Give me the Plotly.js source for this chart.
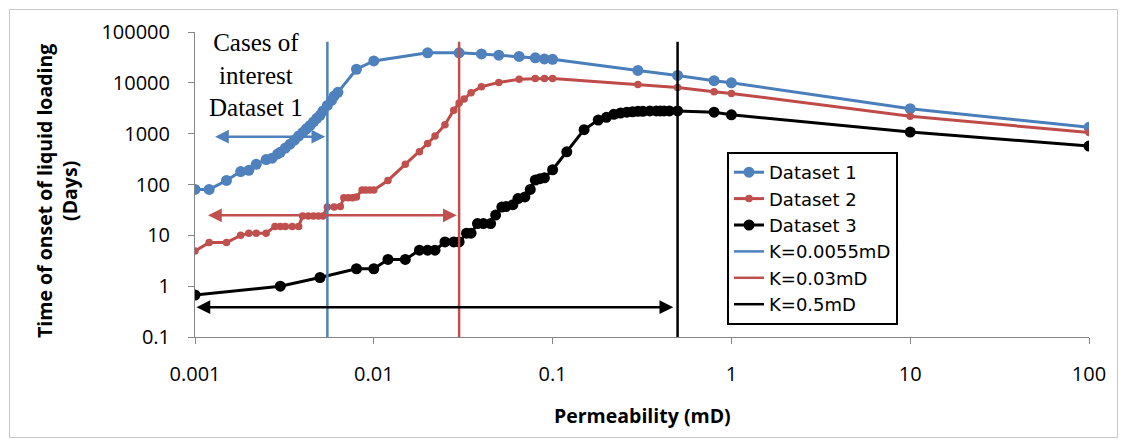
<!DOCTYPE html>
<html>
<head>
<meta charset="utf-8">
<script src="https://cdn.plot.ly/plotly-3.0.1.min.js"></script>
<style>
  html, body { margin: 0; padding: 0; background: #fff; }
  #chart { width: 1123px; height: 445px; }
</style>
</head>
<body>
<div id="chart"></div>
<script>
// ---- Data ----
const ds1X = [0.001, 0.0012, 0.0015, 0.0018, 0.002, 0.0022, 0.0025, 0.0027, 0.0029, 0.003, 0.0032, 0.0034, 0.0036, 0.0038, 0.004, 0.0042, 0.0044, 0.0046, 0.0048, 0.005, 0.0052, 0.0055, 0.0058, 0.006, 0.0063, 0.008, 0.01, 0.02, 0.03, 0.04, 0.05, 0.065, 0.08, 0.09, 0.1, 0.3, 0.5, 0.8, 1, 10, 100];
const ds1Y = [80, 80, 120, 180, 190, 250, 310, 330, 400, 430, 520, 620, 750, 900, 1050, 1250, 1450, 1700, 2000, 2300, 2800, 3600, 4500, 5500, 6500, 18500, 27000, 39000, 39000, 37000, 35000, 33000, 31000, 29500, 29000, 17500, 14000, 11000, 10000, 3100, 1330];

const ds2X = [0.001, 0.0012, 0.0015, 0.0018, 0.002, 0.0022, 0.0025, 0.0028, 0.003, 0.0032, 0.0035, 0.0038, 0.004, 0.0043, 0.0046, 0.0049, 0.0052, 0.0055, 0.006, 0.0065, 0.0068, 0.0072, 0.0076, 0.008, 0.0086, 0.009, 0.0095, 0.01, 0.012, 0.015, 0.018, 0.02, 0.022, 0.025, 0.028, 0.03, 0.032, 0.035, 0.04, 0.05, 0.065, 0.08, 0.09, 0.1, 0.3, 0.5, 0.8, 1, 10, 100];
const ds2Y = [4.9, 7.2, 7.2, 10, 11, 11, 11, 15, 15, 15, 15, 15, 24, 24, 24, 24, 24, 36, 36, 37, 55, 55, 55, 57, 78, 78, 78, 78, 120, 250, 440, 640, 900, 1500, 2900, 4000, 4800, 6400, 8400, 10200, 11700, 12200, 12200, 12200, 9300, 8100, 6700, 6200, 2200, 1050];

const ds3X = [0.001, 0.003, 0.005, 0.008, 0.01, 0.012, 0.015, 0.018, 0.02, 0.022, 0.025, 0.028, 0.03, 0.033, 0.035, 0.038, 0.041, 0.045, 0.048, 0.052, 0.055, 0.06, 0.064, 0.07, 0.075, 0.08, 0.085, 0.09, 0.1, 0.12, 0.15, 0.18, 0.2, 0.22, 0.24, 0.26, 0.28, 0.3, 0.32, 0.35, 0.38, 0.4, 0.42, 0.45, 0.5, 0.8, 1, 10, 100];
const ds3Y = [0.67, 1.0, 1.48, 2.2, 2.2, 3.35, 3.35, 5.1, 5.1, 5.1, 7.4, 7.4, 7.4, 11, 11, 17, 17, 17, 25, 36, 37, 40, 53, 57, 80, 122, 130, 135, 195, 440, 1200, 1850, 2100, 2400, 2550, 2650, 2700, 2750, 2750, 2800, 2800, 2800, 2800, 2800, 2800, 2650, 2350, 1075, 570];

const kNames = ['K=0.0055mD', 'K=0.03mD', 'K=0.5mD'];
const kValues = [0.0055, 0.03, 0.5];
const kLineY = [0.1, 64000];

// Double-headed arrows (x from, x to, y)
const arrowX0 = [0.00127, 0.00116, 0.001];
const arrowX1 = [0.00535, 0.0291, 0.473];
const arrowY  = [870, 24.7, 0.386];

const xTickVals = [0.001, 0.01, 0.1, 1, 10, 100];
const xTickText = ['0.001', '0.01', '0.1', '1', '10', '100'];
const yTickVals = [0.1, 1, 10, 100, 1000, 10000, 100000];
const yTickText = ['0.1', '1', '10', '100', '1000', '10000', '100000'];

// ---- Styles ----
const BLUE = '#4A7EBB', RED = '#BE4B48', BLACK = '#000000';
const kColors = ['#4F81BD', '#C0504D', '#000000'];
const arrowColors = ['#4F81BD', '#C0504D', '#000000'];
const FONT = 'Open Sans, sans-serif';

const traces = [
  { x: ds1X, y: ds1Y, name: 'Dataset 1', mode: 'lines+markers', type: 'scatter',
    line: { color: BLUE, width: 3 }, marker: { color: '#4F81BD', size: 11 } },
  { x: ds2X, y: ds2Y, name: 'Dataset 2', mode: 'lines+markers', type: 'scatter',
    line: { color: RED, width: 3 }, marker: { color: '#C0504D', size: 7.5 } },
  { x: ds3X, y: ds3Y, name: 'Dataset 3', mode: 'lines+markers', type: 'scatter',
    line: { color: BLACK, width: 3 }, marker: { color: BLACK, size: 11 } }
];
kValues.forEach((k, i) => {
  traces.push({ x: [k, k], y: kLineY, name: kNames[i], mode: 'lines', type: 'scatter',
    line: { color: kColors[i], width: 2.5 } });
});

const annotations = [];
arrowY.forEach((yv, i) => {
  annotations.push({
    x: Math.log10(arrowX1[i]), y: Math.log10(yv), xref: 'x', yref: 'y',
    ax: Math.log10(arrowX0[i]), ay: Math.log10(yv), axref: 'x', ayref: 'y',
    text: '', showarrow: true, arrowhead: 2, arrowside: 'end+start',
    arrowsize: 1.1, arrowwidth: 2.5, arrowcolor: arrowColors[i], standoff: 0, startstandoff: 0
  });
});

// plot area: x 195..1089 px, y 32..337 px
const L = 195, R = 1089, T = 32, B = 337;
const px2x = p => (p - L) / (R - L);
const px2y = p => (B - p) / (B - T);

annotations.push({
  text: 'Cases of<br>interest<br>Dataset 1', xref: 'paper', yref: 'paper',
  x: px2x(256), y: px2y(75), xanchor: 'center', yanchor: 'middle', showarrow: false,
  font: { family: 'Liberation Serif, serif', size: 25, color: '#000' }
});
annotations.push({
  text: 'Time of onset of liquid loading<br>(Days)', xref: 'paper', yref: 'paper',
  x: px2x(57), y: px2y(191), xanchor: 'center', yanchor: 'middle', textangle: -90, showarrow: false,
  font: { family: FONT, size: 19.5, color: '#000', weight: 'bold' }
});
annotations.push({
  text: 'Permeability (mD)', xref: 'paper', yref: 'paper',
  x: px2x(642), y: px2y(416), xanchor: 'center', yanchor: 'middle', showarrow: false,
  font: { family: FONT, size: 19.5, color: '#000', weight: 'bold' }
});

const layout = {
  width: 1123, height: 445,
  margin: { l: L, r: 1123 - R, t: T, b: 445 - B, pad: 0 },
  paper_bgcolor: '#ffffff', plot_bgcolor: '#ffffff',
  showlegend: true,
  hovermode: false,
  font: { family: FONT, size: 20, color: '#000' },
  xaxis: {
    type: 'log', range: [-3, 2], tickmode: 'array', tickvals: xTickVals, ticktext: xTickText,
    showgrid: false, zeroline: false, showline: true, linecolor: '#868686', linewidth: 1,
    ticks: 'outside', ticklen: 6, tickcolor: '#868686', ticklabelstandoff: 13,
    tickfont: { family: FONT, size: 20, color: '#000' }
  },
  yaxis: {
    type: 'log', range: [-1, 5], tickmode: 'array', tickvals: yTickVals, ticktext: yTickText,
    showgrid: false, zeroline: false, showline: true, linecolor: '#868686', linewidth: 1,
    ticks: 'outside', ticklen: 6, tickcolor: '#868686', ticklabelstandoff: 14,
    tickfont: { family: FONT, size: 20, color: '#000' }
  },
  legend: {
    x: px2x(727), y: px2y(152), xanchor: 'left', yanchor: 'top',
    bgcolor: '#ffffff', bordercolor: '#000000', borderwidth: 2,
    font: { family: 'DejaVu Sans, sans-serif', size: 18, color: '#000' }, tracegroupgap: 0
  },
  annotations: annotations,
  shapes: [{
    type: 'rect', xref: 'paper', yref: 'paper', layer: 'below',
    x0: px2x(9.5), x1: px2x(1117.5), y0: px2y(437.5), y1: px2y(9.5),
    line: { color: '#C8C8C8', width: 1 }, fillcolor: 'rgba(0,0,0,0)'
  }]
};

Plotly.newPlot('chart', traces, layout, { displayModeBar: false, staticPlot: true });
</script>
</body>
</html>
